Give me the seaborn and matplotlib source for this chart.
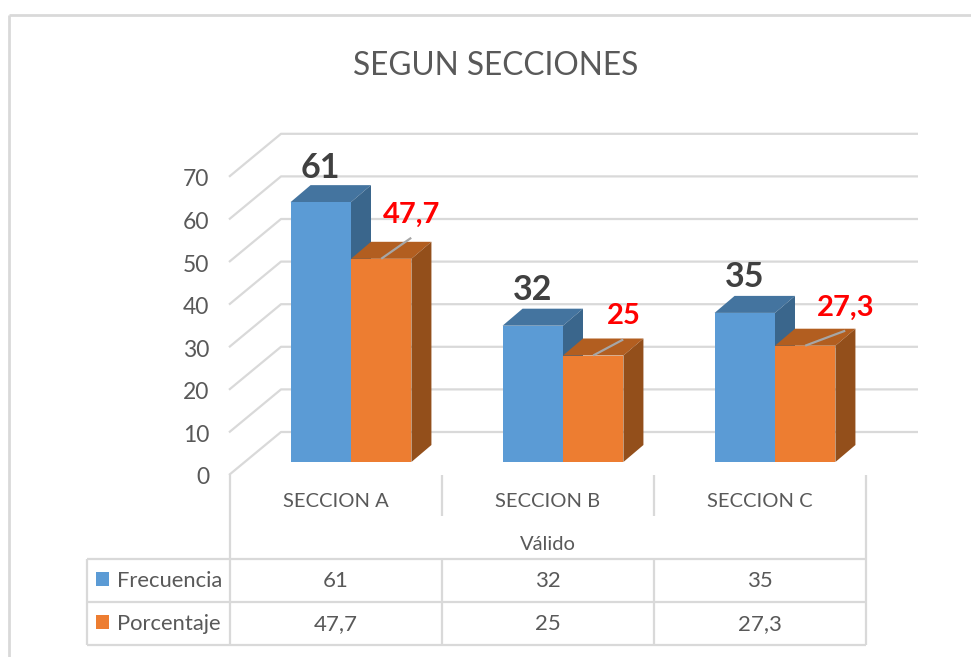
import numpy as np
import pandas as pd
import matplotlib
matplotlib.use("Agg")
import matplotlib.pyplot as plt
from matplotlib.patches import Polygon, Rectangle
from matplotlib.transforms import Affine2D
import seaborn as sns

secciones = ["SECCION A", "SECCION B", "SECCION C"]
frecuencia = [61, 32, 35]
porcentaje = [47.7, 25, 27.3]
frecuencia_txt = ["61", "32", "35"]
porcentaje_txt = ["47,7", "25", "27,3"]
y_ticks = [0, 10, 20, 30, 40, 50, 60, 70]

W, H = 971, 657
GRIS = "#595959"
LINEA = "#d9d9d9"
colores = {"Frecuencia": "#5b9bd5", "Porcentaje": "#ed7d31"}
tapa = {"Frecuencia": "#44749f", "Porcentaje": "#b25e20"}
lado = {"Frecuencia": "#3a668c", "Porcentaje": "#934f1b"}

df = pd.DataFrame({
    "seccion": secciones * 2,
    "serie": ["Frecuencia"] * 3 + ["Porcentaje"] * 3,
    "valor": frecuencia + porcentaje,
})

sns.set_theme(style="white")
plt.rcParams["font.family"] = ["Lato", "DejaVu Sans"]

fig = plt.figure(figsize=(W / 100, H / 100), dpi=100)
ax = fig.add_axes([245 / W, (H - 462) / H, 636 / W, 70 * 4.26 / H])
sns.barplot(data=df, x="seccion", y="valor", hue="serie", palette=colores,
            width=0.57, gap=0, saturation=1, legend=False, ax=ax)
ax.set_xlim(-0.5, 2.5)
ax.set_ylim(0, 70)
ax.set_xlabel("")
ax.set_ylabel("")
ax.set_yticks(y_ticks)
sns.despine(ax=ax, left=True, bottom=True)
ax.patch.set_visible(False)
ax.tick_params(axis="y", length=0, pad=25.5, labelsize=16.5, labelcolor=GRIS)
ax.tick_params(axis="x", length=0, pad=22.5, labelsize=14.5, labelcolor=GRIS)

# tick labels sit on the front plane of the 3D box, not at the bars
for lab in ax.get_yticklabels():
    lab.set_transform(lab.get_transform() + Affine2D().translate(0, -14))
for lab in ax.get_xticklabels():
    lab.set_transform(lab.get_transform() + Affine2D().translate(-15, 0))

# pixel coords of the image, origin top left
px = Affine2D().scale(1, -1).translate(0, H)


def to_px(x, y):
    dx, dy = ax.transData.transform((x, y))
    return dx, H - dy


def linea(xs, ys, color=LINEA, lw=1.6, z=1):
    ax.plot(xs, ys, color=color, lw=lw, transform=px, clip_on=False, zorder=z,
            solid_capstyle="butt", scalex=False, scaley=False)


def texto(x, y, s, size=16, color=GRIS, **kw):
    fig.text(x, y, s, transform=px, fontsize=size, color=color,
             ha=kw.pop("ha", "center"), va="center", **kw)


# walls of the box
for v in y_ticks:
    _, yy = to_px(0, v)
    linea([229, 281, 918], [yy + 13, yy - 30, yy - 30])

# depth of the bars, built from the bars seaborn drew
DX, DY = 20, -17
series = list(colores)
n = len(secciones)
barras = [b for b in ax.patches if isinstance(b, Rectangle)][:2 * n]
for i, b in enumerate(barras):
    s = series[i // n]
    z = 2 if s == "Frecuencia" else 4
    x0, top = to_px(b.get_x(), b.get_height())
    x1, base = to_px(b.get_x() + b.get_width(), 0)
    ax.add_patch(Polygon([(x0, top), (x1, top), (x1 + DX, top + DY), (x0 + DX, top + DY)],
                         fc=tapa[s], ec="none", transform=px, clip_on=False, zorder=z))
    ax.add_patch(Polygon([(x1, top), (x1 + DX, top + DY), (x1 + DX, base + DY), (x1, base)],
                         fc=lado[s], ec="none", transform=px, clip_on=False, zorder=z))
    b.set_zorder(z + 1)
    b.set_linewidth(0)

# data labels
ajuste_f = [-34, -36, -36]
ajuste_p = [(30, -44, 30, -21), (31, -39, 30, -16), (40, -38, 40, -15)]
for i in range(n):
    b = barras[i]
    xc, top = to_px(b.get_x() + b.get_width() / 2, b.get_height())
    texto(xc, top + ajuste_f[i], frecuencia_txt[i], size=24.5, color="#404040", fontweight="bold")
    b = barras[n + i]
    xc, top = to_px(b.get_x() + b.get_width() / 2, b.get_height())
    ax_, ay_, lx_, ly_ = ajuste_p[i]
    texto(xc + ax_, top + ay_, porcentaje_txt[i], size=21, color="#ff0000", fontweight="bold")
    linea([xc, xc + lx_], [top, top + ly_], color="#a6a6a6", lw=1.6, z=6)

texto(496, 66, "SEGUN SECCIONES", size=22.8)

# data table under the chart
xs_col = [230, 442, 654, 866]
for y in [559, 601.5, 645]:
    linea([87, 866], [y, y])
for x in xs_col:
    tope = 475 if x in (230, 866) else 559
    linea([x, x], [tope, 645])
for x in xs_col[1:3]:
    linea([x, x], [475, 516])
linea([87, 87], [559, 645])

centros = [336, 548, 760]
for i in range(n):
    texto(centros[i], 581, frecuencia_txt[i])
    texto(centros[i], 624, porcentaje_txt[i])
texto(548, 544, "Válido", size=14.5)

for s, y in zip(series, [579, 622]):
    fig.add_artist(Rectangle((96, y - 7), 13, 14, fc=colores[s], ec="none", transform=px))
    texto(117, y + 2, s, size=15.8, ha="left")

# outer border of the pasted chart
linea([9, W], [15, 15], lw=2)
linea([9, 9], [15, H], lw=2)

fig.savefig("out.png", dpi=100)
